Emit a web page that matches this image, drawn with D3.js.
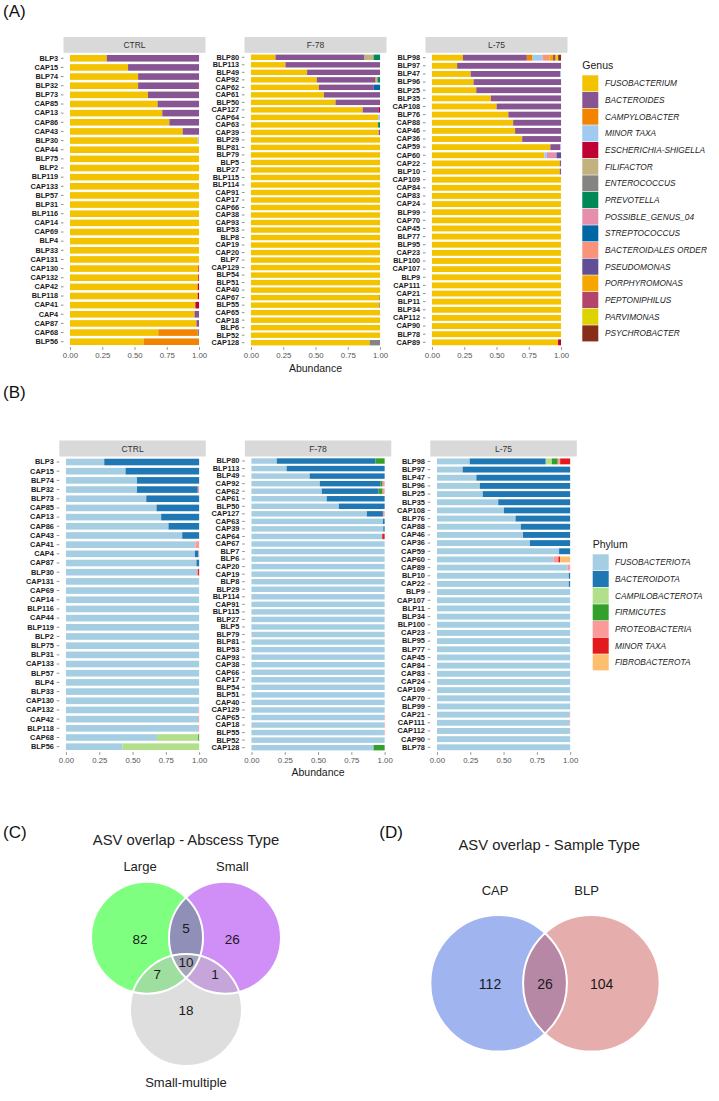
<!DOCTYPE html>
<html><head><meta charset="utf-8">
<script src="https://cdn.jsdelivr.net/npm/d3@7"></script>
<style>
body{margin:0;background:#fff}
svg{display:block}
text{font-family:"Liberation Sans",Arial,Helvetica,sans-serif}
</style>
</head><body>
<svg id="c" width="719" height="1101"></svg>
<script>
// ---------------- DATA ----------------
const facets = ["CTRL", "F-78", "L-75"];
const xTicks = [0, 0.25, 0.5, 0.75, 1];
const xTickLabels = ["0.00", "0.25", "0.50", "0.75", "1.00"];

const genusKeys = ["Fuso","Bact","Camp","Minor","Esch","Fili","Ente","Prev","PG04","Strep","BactO","Pseu","Porph","Pept","Parv","Psych"];
const genusNames = ["FUSOBACTERIUM","BACTEROIDES","CAMPYLOBACTER","MINOR TAXA","ESCHERICHIA-SHIGELLA","FILIFACTOR","ENTEROCOCCUS","PREVOTELLA","POSSIBLE_GENUS_04","STREPTOCOCCUS","BACTEROIDALES ORDER","PSEUDOMONAS","PORPHYROMONAS","PEPTONIPHILUS","PARVIMONAS","PSYCHROBACTER"];
const genusColors = ["#F3C300","#875692","#F38400","#A1CAF1","#BE0032","#C2B280","#848482","#008856","#E68FAC","#0067A5","#F99379","#604E97","#F6A600","#B3446C","#DCD300","#882D17"];

const phylumKeys = ["Fuso","Bact","Camp","Firm","Proteo","Minor","Fibro"];
const phylumNames = ["FUSOBACTERIOTA","BACTEROIDOTA","CAMPILOBACTEROTA","FIRMICUTES","PROTEOBACTERIA","MINOR TAXA","FIBROBACTEROTA"];
const phylumColors = ["#A6CEE3","#1F78B4","#B2DF8A","#33A02C","#FB9A99","#E31A1C","#FDBF6F"];

// Genus relative abundance (panel A), rows in plotted order
const genusCTRL = [
  ["BLP3",{Fuso:.285,Bact:.715}],["CAP15",{Fuso:.45,Bact:.55}],["BLP74",{Fuso:.528,Bact:.472}],
  ["BLP32",{Fuso:.528,Bact:.467,Esch:.005}],["BLP73",{Fuso:.604,Bact:.396}],["CAP85",{Fuso:.679,Bact:.321}],
  ["CAP13",{Fuso:.715,Bact:.285}],["CAP86",{Fuso:.77,Bact:.23}],["CAP43",{Fuso:.873,Bact:.127}],
  ["BLP30",{Fuso:.99,Minor:.01}],["CAP44",{Fuso:1}],["BLP75",{Fuso:1}],["BLP2",{Fuso:1}],
  ["BLP119",{Fuso:1}],["CAP133",{Fuso:1}],["BLP57",{Fuso:1}],["BLP31",{Fuso:1}],["BLP116",{Fuso:1}],
  ["CAP14",{Fuso:1}],["CAP69",{Fuso:1}],["BLP4",{Fuso:1}],["BLP33",{Fuso:1}],["CAP131",{Fuso:1}],
  ["CAP130",{Fuso:.995,Esch:.005}],["CAP132",{Fuso:.994,Esch:.006}],["CAP42",{Fuso:.99,Esch:.01}],
  ["BLP118",{Fuso:.99,Esch:.01}],["CAP41",{Fuso:.972,Esch:.028}],["CAP4",{Fuso:.965,Bact:.035}],
  ["CAP87",{Fuso:.98,Bact:.02}],["CAP68",{Fuso:.684,Camp:.306,Ente:.01}],["BLP56",{Fuso:.57,Camp:.43}]
];
const genusF78 = [
  ["BLP80",{Fuso:.19,Bact:.69,Fili:.07,Prev:.05}],["BLP113",{Fuso:.267,Bact:.733}],["BLP49",{Fuso:.435,Bact:.565}],
  ["CAP92",{Fuso:.51,Bact:.445,Esch:.01,Fili:.015,Prev:.02}],["CAP62",{Fuso:.526,Bact:.425,Strep:.049}],
  ["CAP61",{Fuso:.565,Bact:.435}],["BLP50",{Fuso:.655,Bact:.345}],["CAP127",{Fuso:.865,Bact:.122,Esch:.013}],
  ["CAP64",{Fuso:.985,Minor:.015}],["CAP63",{Fuso:.985,Prev:.015}],["CAP39",{Fuso:.99,Bact:.01}],
  ["BLP29",{Fuso:1}],["BLP81",{Fuso:1}],["BLP79",{Fuso:1}],["BLP5",{Fuso:1}],["BLP27",{Fuso:1}],
  ["BLP115",{Fuso:1}],["BLP114",{Fuso:1}],["CAP91",{Fuso:1}],["CAP17",{Fuso:1}],["CAP66",{Fuso:1}],
  ["CAP38",{Fuso:1}],["CAP93",{Fuso:1}],["BLP53",{Fuso:1}],["BLP8",{Fuso:1}],["CAP19",{Fuso:1}],
  ["CAP20",{Fuso:1}],["BLP7",{Fuso:1}],["CAP129",{Fuso:1}],["BLP54",{Fuso:1}],["BLP51",{Fuso:1}],
  ["CAP40",{Fuso:1}],["CAP67",{Fuso:.994,Ente:.006}],["BLP55",{Fuso:.994,Ente:.006}],["CAP65",{Fuso:1}],
  ["CAP18",{Fuso:1}],["BLP6",{Fuso:1}],["BLP52",{Fuso:1}],["CAP128",{Fuso:.92,Ente:.08}]
];
const genusL75 = [
  ["BLP98",{Fuso:.24,Bact:.495,Camp:.044,Minor:.078,BactO:.052,Porph:.029,Pept:.02,Parv:.02,Psych:.022}],
  ["BLP97",{Fuso:.195,Bact:.805}],["BLP47",{Fuso:.3,Bact:.695,Minor:.005}],["BLP96",{Fuso:.322,Bact:.678}],
  ["BLP25",{Fuso:.343,Bact:.657}],["BLP35",{Fuso:.457,Bact:.543}],["CAP108",{Fuso:.501,Bact:.499}],
  ["BLP76",{Fuso:.592,Bact:.408}],["CAP88",{Fuso:.629,Bact:.371}],["CAP46",{Fuso:.644,Bact:.356}],
  ["CAP36",{Fuso:.699,Bact:.301}],["CAP59",{Fuso:.917,Bact:.078,Minor:.005}],
  ["CAP60",{Fuso:.87,Minor:.02,PG04:.075,Pseu:.035}],["CAP22",{Fuso:.99,Bact:.01}],["BLP10",{Fuso:.99,Bact:.01}],
  ["CAP109",{Fuso:1}],["CAP84",{Fuso:1}],["CAP83",{Fuso:1}],["CAP24",{Fuso:1}],["BLP99",{Fuso:1}],
  ["CAP70",{Fuso:1}],["CAP45",{Fuso:1}],["BLP77",{Fuso:1}],["BLP95",{Fuso:1}],["CAP23",{Fuso:1}],
  ["BLP100",{Fuso:1}],["CAP107",{Fuso:1}],["BLP9",{Fuso:1}],["CAP111",{Fuso:1}],["CAP21",{Fuso:1}],
  ["BLP11",{Fuso:1}],["BLP34",{Fuso:1}],["CAP112",{Fuso:1}],["CAP90",{Fuso:1}],["BLP78",{Fuso:1}],
  ["CAP89",{Fuso:.977,Esch:.023}]
];

// Phylum relative abundance (panel B)
const phylumCTRL = [
  ["BLP3",{Fuso:.2875,Bact:.7125}],["CAP15",{Fuso:.4475,Bact:.5525}],["BLP74",{Fuso:.533,Bact:.467}],
  ["BLP32",{Fuso:.533,Bact:.457,Proteo:.01}],["BLP73",{Fuso:.603,Bact:.397}],["CAP85",{Fuso:.68,Bact:.32}],
  ["CAP13",{Fuso:.715,Bact:.285}],["CAP86",{Fuso:.77,Bact:.23}],["CAP43",{Fuso:.873,Bact:.127}],
  ["CAP41",{Fuso:.972,Proteo:.028}],["CAP4",{Fuso:.968,Bact:.027,Proteo:.005}],["CAP87",{Fuso:.98,Bact:.02}],
  ["BLP30",{Fuso:.984,Proteo:.008,Minor:.008}],["CAP131",{Fuso:1}],["CAP69",{Fuso:1}],["CAP14",{Fuso:1}],
  ["BLP116",{Fuso:1}],["CAP44",{Fuso:1}],["BLP119",{Fuso:1}],["BLP2",{Fuso:1}],["BLP75",{Fuso:1}],
  ["BLP31",{Fuso:1}],["CAP133",{Fuso:1}],["BLP57",{Fuso:1}],["BLP4",{Fuso:1}],["BLP33",{Fuso:1}],
  ["CAP130",{Fuso:1}],["CAP132",{Fuso:.995,Proteo:.005}],["CAP42",{Fuso:.993,Proteo:.007}],
  ["BLP118",{Fuso:.993,Proteo:.007}],["CAP68",{Fuso:.683,Camp:.31,Firm:.007}],["BLP56",{Fuso:.425,Camp:.575}]
];
const phylumF78 = [
  ["BLP80",{Fuso:.19,Bact:.74,Firm:.07}],["BLP113",{Fuso:.264,Bact:.736}],["BLP49",{Fuso:.437,Bact:.563}],
  ["CAP92",{Fuso:.513,Bact:.457,Firm:.015,Proteo:.015}],["CAP62",{Fuso:.528,Bact:.427,Firm:.03,Proteo:.015}],
  ["CAP61",{Fuso:.565,Bact:.435}],["BLP50",{Fuso:.656,Bact:.344}],["CAP127",{Fuso:.867,Bact:.12,Proteo:.013}],
  ["CAP63",{Fuso:.987,Bact:.013}],["CAP39",{Fuso:.99,Bact:.01}],["CAP64",{Fuso:.982,Minor:.018}],
  ["CAP67",{Fuso:1}],["BLP7",{Fuso:1}],["BLP6",{Fuso:1}],["CAP20",{Fuso:1}],["CAP19",{Fuso:1}],
  ["BLP8",{Fuso:1}],["BLP29",{Fuso:1}],["BLP114",{Fuso:1}],["CAP91",{Fuso:1}],["BLP115",{Fuso:1}],
  ["BLP27",{Fuso:1}],["BLP5",{Fuso:1}],["BLP79",{Fuso:1}],["BLP81",{Fuso:1}],["BLP53",{Fuso:1}],
  ["CAP93",{Fuso:1}],["CAP38",{Fuso:1}],["CAP66",{Fuso:1}],["CAP17",{Fuso:1}],["BLP54",{Fuso:1}],
  ["BLP51",{Fuso:1}],["CAP40",{Fuso:1}],["CAP129",{Fuso:1}],["CAP65",{Fuso:.995,Proteo:.005}],
  ["CAP18",{Fuso:.995,Proteo:.005}],["BLP55",{Fuso:.995,Proteo:.005}],["BLP52",{Fuso:1}],
  ["CAP128",{Fuso:.917,Firm:.083}]
];
const phylumL75 = [
  ["BLP98",{Fuso:.246,Bact:.571,Camp:.045,Firm:.045,Proteo:.018,Minor:.075}],
  ["BLP97",{Fuso:.193,Bact:.807}],["BLP47",{Fuso:.296,Bact:.704}],["BLP96",{Fuso:.322,Bact:.678}],
  ["BLP25",{Fuso:.344,Bact:.656}],["BLP35",{Fuso:.46,Bact:.54}],["CAP108",{Fuso:.503,Bact:.497}],
  ["BLP76",{Fuso:.59,Bact:.41}],["CAP88",{Fuso:.63,Bact:.37}],["CAP46",{Fuso:.646,Bact:.354}],
  ["CAP36",{Fuso:.698,Bact:.302}],["CAP59",{Fuso:.917,Bact:.083}],
  ["CAP60",{Fuso:.874,Proteo:.038,Minor:.013,Fibro:.075}],["CAP89",{Fuso:.98,Proteo:.02}],
  ["BLP10",{Fuso:.99,Bact:.01}],["CAP22",{Fuso:.99,Bact:.01}],["BLP9",{Fuso:1}],["CAP107",{Fuso:1}],
  ["BLP11",{Fuso:1}],["BLP34",{Fuso:1}],["BLP100",{Fuso:1}],["CAP23",{Fuso:1}],["BLP95",{Fuso:1}],
  ["BLP77",{Fuso:1}],["CAP45",{Fuso:1}],["CAP84",{Fuso:1}],["CAP83",{Fuso:1}],["CAP24",{Fuso:1}],
  ["CAP109",{Fuso:1}],["CAP70",{Fuso:1}],["BLP99",{Fuso:1}],["CAP21",{Fuso:.995,Proteo:.005}],
  ["CAP111",{Fuso:.995,Proteo:.005}],["CAP112",{Fuso:1}],["CAP90",{Fuso:1}],["BLP78",{Fuso:1}]
];

// Venn diagrams
const vennAbscessSets = ["Large", "Small", "Small-multiple"];
const vennAbscessSetColors = ["#00FF00", "#A020F0", "#BEBEBE"];
const vennAbscessRegions = ["Large", "Small", "Small-multiple", "Large&Small", "Large&Small-multiple", "Small&Small-multiple", "All"];
const vennAbscessCounts = [82, 26, 18, 5, 7, 1, 10];
const vennSampleSets = ["CAP", "BLP"];
const vennSampleSetColors = ["#4169E1", "#CD5C5C"];
const vennSampleRegions = ["CAP", "CAP&BLP", "BLP"];
const vennSampleCounts = [112, 26, 104];

// ---------------- LAYOUT ----------------
const FONT = '"Liberation Sans", Arial, Helvetica, sans-serif';
const svg = d3.select("#c");

const LAYOUT_A = {left:[63.5,244.5,425.5], w:142, stripTop:37, top:52.8, bottom:347.2, yFont:7.3, xPad:3.0, titleY:371.5,
  legX:582.3, legTitleY:68.7, legKeyTop:75, legLabelX:605, legTitle:"Genus"};
const LAYOUT_B = {left:[59.3,244.8,430.3], w:146.5, stripTop:440.5, top:456.5, bottom:752.2, yFont:7.4, xPad:2.5, titleY:775.5,
  legX:592.7, legTitleY:547.7, legKeyTop:554, legLabelX:615, legTitle:"Phylum"};

function panelLabel(txt, x, y) {
  svg.append("text").attr("x", x).attr("y", y).attr("font-size", 17).attr("fill", "#111").text(txt);
}

function drawFacets(L, data, keys, names, colors) {
  data.forEach((rows, fi) => {
    const x0 = L.left[fi], x1 = x0 + L.w;
    const off = 0.05 * L.w / 1.1;
    const x = d3.scaleLinear().domain([0, 1]).range([x0 + off, x1 - off]);
    const y = d3.scaleBand().domain(rows.map(r => r[0])).range([L.top, L.bottom])
      .paddingInner(0.28).paddingOuter(0.24);
    const g = svg.append("g");
    g.append("rect").attr("x", x0).attr("y", L.stripTop).attr("width", L.w)
      .attr("height", L.top - L.stripTop).attr("fill", "#d9d9d9");
    g.append("text").attr("x", (x0 + x1) / 2).attr("y", (L.stripTop + L.top) / 2 + 3)
      .attr("text-anchor", "middle").attr("font-size", 8.5).attr("fill", "#333").text(facets[fi]);

    const series = d3.stack().keys(keys).value((d, k) => d[1][k] || 0)(rows);
    series.forEach((s, ki) => {
      g.append("g").selectAll("rect").data(s.filter(d => d[1] - d[0] > 0)).join("rect")
        .attr("x", d => x(d[0])).attr("width", d => x(d[1]) - x(d[0]))
        .attr("y", d => y(d.data[0])).attr("height", y.bandwidth())
        .attr("fill", colors[ki]);
    });

    const ya = g.append("g").attr("transform", `translate(${x0},0)`)
      .call(d3.axisLeft(y).tickSize(2.6).tickPadding(2.8));
    ya.attr("font-family", FONT);
    ya.select(".domain").remove();
    ya.selectAll("line").attr("stroke", "#333").attr("stroke-width", 0.55);
    ya.selectAll("text").attr("font-size", L.yFont).attr("font-weight", "bold").attr("fill", "#1a1a1a");

    const xa = g.append("g").attr("transform", `translate(0,${L.bottom})`)
      .call(d3.axisBottom(x).tickValues(xTicks).tickFormat((d, i) => xTickLabels[i]).tickSize(2.6).tickPadding(L.xPad));
    xa.attr("font-family", FONT);
    xa.select(".domain").remove();
    xa.selectAll("line").attr("stroke", "#333").attr("stroke-width", 0.55);
    xa.selectAll("text").attr("font-size", 7.8).attr("fill", "#555");
  });
  const midX = (L.left[0] + L.left[2] + L.w) / 2;
  svg.append("text").attr("x", midX).attr("y", L.titleY).attr("text-anchor", "middle")
    .attr("font-size", 10.5).attr("fill", "#1a1a1a").text("Abundance");

  // legend
  const lg = svg.append("g");
  lg.append("text").attr("x", L.legX).attr("y", L.legTitleY).attr("font-size", 10.5).attr("fill", "#1a1a1a").text(L.legTitle);
  const step = 16.67;
  const ly = d3.scaleBand().domain(names).range([L.legKeyTop, L.legKeyTop + step * names.length]);
  lg.selectAll("rect").data(names).join("rect")
    .attr("x", L.legX).attr("y", d => ly(d) + 0.3).attr("width", 16).attr("height", step - 0.6)
    .attr("fill", (d, i) => colors[i]);
  lg.selectAll("text.lab").data(names).join("text").attr("class", "lab")
    .attr("x", L.legLabelX).attr("y", d => ly(d) + step / 2 + 2.9)
    .attr("font-size", 8.3).attr("font-style", "italic").attr("fill", "#222").text(d => d);
}

panelLabel("(A)", 3, 16.5);
drawFacets(LAYOUT_A, [genusCTRL, genusF78, genusL75], genusKeys, genusNames, genusColors);
panelLabel("(B)", 3, 397.5);
drawFacets(LAYOUT_B, [phylumCTRL, phylumF78, phylumL75], phylumKeys, phylumNames, phylumColors);

// ---------------- VENN C ----------------
(function () {
  const cx = 186, cy = 937.7, r = 56;
  const vx = d3.scaleLinear().domain([-1, 1]).range([cx - r, cx + r]);
  const vy = d3.scaleLinear().domain([-1, 1]).range([cy - r, cy + r]);
  const centers = [[-0.696, 0], [0.696, 0], [0, 1.291]];
  const labelPos = [[-0.821, -1.268], [0.827, -1.268], [0, 2.582]];
  const regionPos = [[-0.821, 0.023], [0.827, 0.023], [0, 1.291], [0, -0.168], [-0.5125, 0.654], [0.518, 0.654], [0, 0.446]];
  const g = svg.append("g");
  panelLabel("(C)", 3, 837.5);
  g.append("text").attr("x", cx).attr("y", 839.3 + 5.2).attr("text-anchor", "middle")
    .attr("font-size", 14.8).attr("fill", "#222").text("ASV overlap - Abscess Type");
  g.selectAll("circle.f").data(vennAbscessSets).join("circle").attr("class", "f")
    .attr("cx", (d, i) => vx(centers[i][0])).attr("cy", (d, i) => vy(centers[i][1]))
    .attr("r", vx(1) - vx(0)).attr("fill", (d, i) => vennAbscessSetColors[i]).attr("fill-opacity", 0.5);
  g.selectAll("circle.s").data(vennAbscessSets).join("circle").attr("class", "s")
    .attr("cx", (d, i) => vx(centers[i][0])).attr("cy", (d, i) => vy(centers[i][1]))
    .attr("r", vx(1) - vx(0)).attr("fill", "none").attr("stroke", "#fff").attr("stroke-width", 2);
  g.selectAll("text.l").data(vennAbscessSets).join("text").attr("class", "l")
    .attr("x", (d, i) => vx(labelPos[i][0])).attr("y", (d, i) => vy(labelPos[i][1]) + 4.6)
    .attr("text-anchor", "middle").attr("font-size", 13).attr("fill", "#222").text(d => d);
  g.selectAll("text.n").data(vennAbscessCounts).join("text").attr("class", "n")
    .attr("x", (d, i) => vx(regionPos[i][0])).attr("y", (d, i) => vy(regionPos[i][1]) + 4.8)
    .attr("text-anchor", "middle").attr("font-size", 13.5).attr("fill", "#1a1a1a").text(d => d);
})();

// ---------------- VENN D ----------------
(function () {
  const cx = 545, cy = 983.3, r = 68.3;
  const vx = d3.scaleLinear().domain([-1, 1]).range([cx - r, cx + r]);
  const vy = d3.scaleLinear().domain([-1, 1]).range([cy - r, cy + r]);
  const centers = [[-0.679, 0], [0.679, 0]];
  const labelPos = [[-0.732, -1.353], [0.61, -1.353]];
  const regionPos = [[-0.805, 0.01], [0, 0.01], [0.83, 0.01]];
  const g = svg.append("g");
  panelLabel("(D)", 379.3, 837.7);
  g.append("text").attr("x", 549.2).attr("y", 845 + 5.2).attr("text-anchor", "middle")
    .attr("font-size", 14.8).attr("fill", "#222").text("ASV overlap - Sample Type");
  g.selectAll("circle.f").data(vennSampleSets).join("circle").attr("class", "f")
    .attr("cx", (d, i) => vx(centers[i][0])).attr("cy", (d, i) => vy(centers[i][1]))
    .attr("r", vx(1) - vx(0)).attr("fill", (d, i) => vennSampleSetColors[i]).attr("fill-opacity", 0.5);
  g.selectAll("circle.s").data(vennSampleSets).join("circle").attr("class", "s")
    .attr("cx", (d, i) => vx(centers[i][0])).attr("cy", (d, i) => vy(centers[i][1]))
    .attr("r", vx(1) - vx(0)).attr("fill", "none").attr("stroke", "#fff").attr("stroke-width", 2);
  g.selectAll("text.l").data(vennSampleSets).join("text").attr("class", "l")
    .attr("x", (d, i) => vx(labelPos[i][0])).attr("y", (d, i) => vy(labelPos[i][1]) + 4.6)
    .attr("text-anchor", "middle").attr("font-size", 13).attr("fill", "#222").text(d => d);
  g.selectAll("text.n").data(vennSampleCounts).join("text").attr("class", "n")
    .attr("x", (d, i) => vx(regionPos[i][0])).attr("y", (d, i) => vy(regionPos[i][1]) + 5)
    .attr("text-anchor", "middle").attr("font-size", 14).attr("fill", "#1a1a1a").text(d => d);
})();
</script>
</body></html>
